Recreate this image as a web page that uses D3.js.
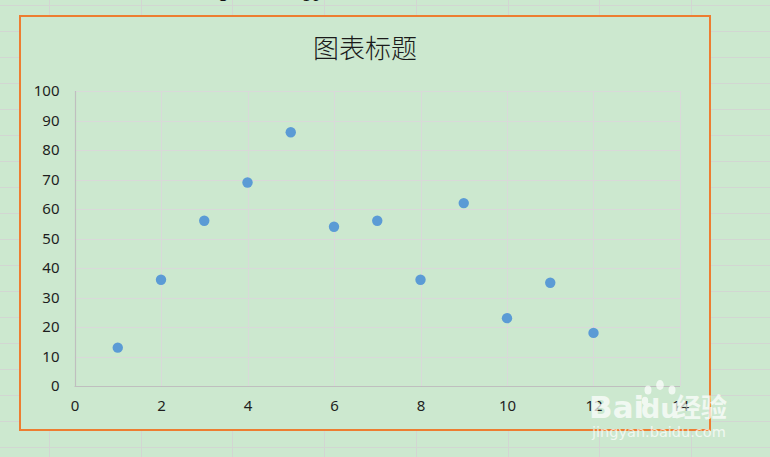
<!DOCTYPE html>
<html>
<head>
<meta charset="utf-8">
<script src="https://cdn.jsdelivr.net/npm/d3@7"></script>
<style>
html,body{margin:0;padding:0;background:#CCE8CF;}
svg{display:block;}
</style>
</head>
<body>
<svg id="c" width="770" height="457"></svg>
<script>
const title = "图表标题";
const xValues = [1, 2, 3, 4, 5, 6, 7, 8, 9, 10, 11, 12];
const yValues = [13, 36, 56, 69, 86, 54, 56, 36, 62, 23, 35, 18];
const xTicks = [0, 2, 4, 6, 8, 10, 12, 14];
const yTicks = [0, 10, 20, 30, 40, 50, 60, 70, 80, 90, 100];
// spreadsheet cells partly hidden behind the chart
const cellRowsA = ["3", "4"];
const cellRowsB = ["56", "69"];

const W = 770, H = 457;
const svg = d3.select("#c");
const bg = "#CCE8CF";

// sheet background + grid
svg.append("rect").attr("width", W).attr("height", H).attr("fill", bg);
const rowLines = d3.range(5, H, 26);
const colLines = d3.range(49, W, 91.7);
svg.append("g").selectAll("line").data(rowLines).join("line")
  .attr("x1", 0).attr("x2", W).attr("y1", d => d + 0.5).attr("y2", d => d + 0.5)
  .attr("stroke", "#d2d6d2").attr("stroke-width", 1);
svg.append("g").selectAll("line").data(colLines).join("line")
  .attr("y1", 0).attr("y2", H).attr("x1", d => Math.round(d) + 0.5).attr("x2", d => Math.round(d) + 0.5)
  .attr("stroke", "#d2d6d2").attr("stroke-width", 1);

// cell texts (mostly covered by chart)
const cellG = svg.append("g").attr("font-family", "Noto Sans, sans-serif").attr("font-size", 15).attr("fill", "#111");
cellRowsA.forEach((t, i) => {
  cellG.append("text").attr("x", 228).attr("y", 1 + i * 26).attr("text-anchor", "end").text(t);
  cellG.append("text").attr("x", 320).attr("y", 1 + i * 26).attr("text-anchor", "end").text(cellRowsB[i]);
});

// chart area
svg.append("rect").attr("x", 20).attr("y", 16).attr("width", 690).attr("height", 414)
  .attr("fill", bg).attr("stroke", "#ED7D31").attr("stroke-width", 2);

// title
svg.append("text").attr("x", 365).attr("y", 58).attr("text-anchor", "middle")
  .attr("font-family", "Noto Sans CJK SC, sans-serif").attr("font-size", 26).attr("font-weight", 300)
  .attr("fill", "#1a1a1a").text(title);

const x = d3.scaleLinear().domain([0, 14]).range([74.5, 680]);
const y = d3.scaleLinear().domain([0, 100]).range([386, 91]);

// gridlines
const grid = svg.append("g");
grid.selectAll(".h").data(yTicks.filter(d => d > 0)).join("line")
  .attr("x1", x(0)).attr("x2", x(14)).attr("y1", d => Math.round(y(d)) + 0.5).attr("y2", d => Math.round(y(d)) + 0.5)
  .attr("stroke", "#d9d9d9").attr("stroke-width", 1);
grid.selectAll(".v").data(xTicks.filter(d => d > 0)).join("line")
  .attr("y1", y(0)).attr("y2", y(100)).attr("x1", d => Math.round(x(d)) + 0.5).attr("x2", d => Math.round(x(d)) + 0.5)
  .attr("stroke", "#d9d9d9").attr("stroke-width", 1);

// axes
const xAxis = d3.axisBottom(x).tickValues(xTicks).tickSize(0).tickPadding(14).tickFormat(d3.format("d"));
const yAxis = d3.axisLeft(y).tickValues(yTicks).tickSize(0).tickPadding(16).tickFormat(d3.format("d"));
const gx = svg.append("g").attr("transform", `translate(0,${Math.round(y(0)) + 0.5})`).call(xAxis);
const gy = svg.append("g").attr("transform", `translate(${Math.round(x(0)) + 0.5},0)`).call(yAxis);
[gx, gy].forEach(g => {
  g.select(".domain").attr("stroke", "#bfbfbf").attr("stroke-width", 1.2);
  g.selectAll("text").attr("font-family", "Noto Sans, sans-serif").attr("font-size", 15).attr("fill", "#1e1e1e");
});
gx.select(".domain").attr("d", `M${x(0)},0H${x(14)}`);
gy.select(".domain").attr("d", `M0,${y(0)}V${y(100)}`);

// points
svg.append("g").selectAll("circle").data(xValues.map((d, i) => [d, yValues[i]])).join("circle")
  .attr("cx", d => x(d[0])).attr("cy", d => y(d[1])).attr("r", 5.2).attr("fill", "#5B9BD5");

// watermark
const wm = svg.append("g").attr("fill", "#ffffff").attr("opacity", 0.72);
wm.append("text").attr("x", 589).attr("y", 418).attr("font-family", "DejaVu Sans, sans-serif")
  .attr("font-weight", "bold").attr("font-size", 31).text("Bai");
wm.append("text").attr("x", 641).attr("y", 418).attr("font-family", "DejaVu Sans, sans-serif")
  .attr("font-weight", "bold").attr("font-size", 27).text("du");
wm.append("text").attr("x", 675).attr("y", 417).attr("font-family", "Noto Sans CJK SC, sans-serif")
  .attr("font-weight", "bold").attr("font-size", 26).text("经验");
wm.append("text").attr("x", 592).attr("y", 437).attr("font-family", "DejaVu Sans, sans-serif")
  .attr("font-size", 14.5).text("jingyan.baidu.com");
[[648, 390, 3.5], [660, 385, 3.8], [672, 390, 3.5], [645, 401, 3.2]].forEach(p => {
  wm.append("ellipse").attr("cx", p[0]).attr("cy", p[1]).attr("rx", p[2]).attr("ry", p[2] * 1.3);
});
</script>
</body>
</html>
